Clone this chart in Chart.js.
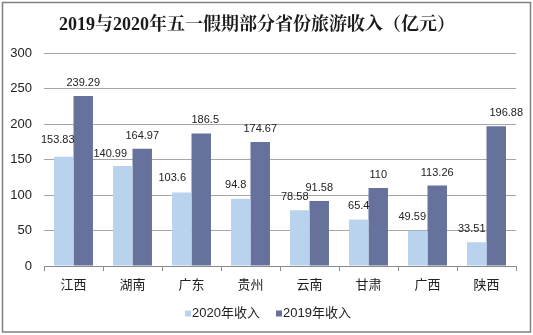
<!DOCTYPE html>
<html>
<head>
<meta charset="utf-8">
<script src="https://cdn.jsdelivr.net/npm/chart.js@4"></script>
<style>
html,body{margin:0;padding:0;background:#fff;}
canvas{display:block;}
</style>
</head>
<body>
<canvas id="c" width="533" height="335"></canvas>
<script>
// ---- data ----
const categories = ["江西","湖南","广东","贵州","云南","甘肃","广西","陕西"];
const income2020 = [153.83,140.99,103.6,94.8,78.58,65.4,49.59,33.51];
const income2019 = [239.29,164.97,186.5,174.67,91.58,110,113.26,196.88];
const seriesNames = ["2020年收入","2019年收入"];
const yTicks = [0,50,100,150,200,250,300];
const titleText = "2019与2020年五一假期部分省份旅游收入（亿元）";

// ---- styling ----
const LIGHT = "#B9D3EE";
const DARK = "#66729C";
const FONT = '"Liberation Sans", "Noto Sans CJK SC", sans-serif';
// label offsets (style): dx from bar centre, dy of label centre from bar top
const labelDx = [[-6,-12.5,-9.5,-5,-5,0,-5.5,-5],[0,0,4,0,0,0,0,10]];
const labelDy = [[-17,-11.5,-14.5,-13.5,-13,-13.5,-14,-13],[-13,-12.7,-13.5,-13.5,-13.4,-13,-13,-13.3]];

const framePlugin = {
  id: 'frame',
  beforeDraw(chart){
    const ctx = chart.ctx;
    ctx.save();
    ctx.fillStyle = '#fff';
    ctx.fillRect(0,0,chart.width,chart.height);
    ctx.strokeStyle = '#808080';
    ctx.lineWidth = 1.5;
    ctx.strokeRect(2.5,2.5,528,329.5);
    ctx.restore();
  }
};

const titlePlugin = {
  id: 'titleText',
  afterDraw(chart){
    const ctx = chart.ctx;
    ctx.save();
    ctx.font = 'bold 18px "Liberation Serif", "Noto Serif CJK SC", "Noto Sans CJK SC", serif';
    ctx.fillStyle = '#1a1a1a';
    ctx.textAlign = 'center';
    ctx.textBaseline = 'middle';
    ctx.fillText(titleText, 257, 25);
    ctx.restore();
  }
};

const valueLabels = {
  id: 'valueLabels',
  afterDatasetsDraw(chart){
    const ctx = chart.ctx;
    ctx.save();
    ctx.font = '11px ' + FONT;
    ctx.fillStyle = '#222';
    ctx.textAlign = 'center';
    ctx.textBaseline = 'middle';
    chart.data.datasets.forEach((ds, di) => {
      const meta = chart.getDatasetMeta(di);
      meta.data.forEach((bar, i) => {
        ctx.fillText(String(ds.data[i]), bar.x + labelDx[di][i], bar.y + labelDy[di][i]);
      });
    });
    ctx.restore();
  }
};

const customLegend = {
  id: 'customLegend',
  afterDraw(chart){
    const ctx = chart.ctx;
    ctx.save();
    ctx.font = '13px ' + FONT;
    ctx.textBaseline = 'middle';
    ctx.textAlign = 'left';
    const items = chart.data.datasets.map(d => ({text: d.label, color: d.backgroundColor, w: ctx.measureText(d.label).width}));
    const box = 6, gapBox = 7, gapItem = 16;
    let total = 0;
    items.forEach((it, i) => { total += gapBox + it.w + (i < items.length-1 ? gapItem : 0); });
    let x = chart.width/2 + 1.5 - total/2;
    const cy = 313.5;
    items.forEach(it => {
      ctx.fillStyle = it.color;
      ctx.fillRect(x, cy - 3, box, box);
      ctx.fillStyle = '#222';
      ctx.fillText(it.text, x + gapBox, cy);
      x += gapBox + it.w + gapItem;
    });
    ctx.restore();
  }
};

new Chart(document.getElementById('c'), {
  type: 'bar',
  data: {
    labels: categories,
    datasets: [
      {label: seriesNames[0], data: income2020, backgroundColor: LIGHT, borderWidth: 0, categoryPercentage: 0.66, barPercentage: 1.0},
      {label: seriesNames[1], data: income2019, backgroundColor: DARK, borderWidth: 0, categoryPercentage: 0.66, barPercentage: 1.0}
    ]
  },
  options: {
    responsive: false,
    animation: false,
    devicePixelRatio: 1,
    layout: {padding: {left: 10, right: 17, top: 53, bottom: 41}},
    plugins: {
      legend: {display: false},
      tooltip: {enabled: false},
      title: {display: false}
    },
    scales: {
      x: {
        afterFit(scale){ scale.height = 28; },
        grid: {display: true, drawOnChartArea: false, drawTicks: true, tickLength: 5, color: '#8c8c8c', offset: true},
        border: {display: true, color: '#8c8c8c', width: 1},
        ticks: {color: '#222', font: {family: FONT, size: 13}, padding: 7}
      },
      y: {
        min: 0, max: 300,
        afterFit(scale){ scale.width = 34; },
        afterBuildTicks(scale){ scale.ticks = yTicks.map(v => ({value: v})); },
        grid: {color: '#a6a6a6', drawTicks: false, lineWidth: 1},
        border: {display: false},
        ticks: {color: '#222', font: {family: FONT, size: 13}, padding: 12}
      }
    }
  },
  plugins: [framePlugin, valueLabels, customLegend, titlePlugin]
});
</script>
</body>
</html>
